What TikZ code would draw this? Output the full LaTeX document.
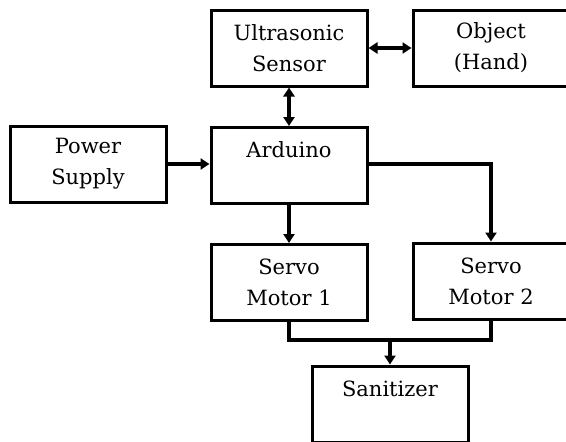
\documentclass[tikz,border=0pt]{standalone}
\usepackage{fontspec}
\setmainfont{DejaVu Serif}
\usetikzlibrary{arrows.meta}
\tikzset{>={Triangle[length=9pt,width=11pt]}}
\tikzset{blockbox/.style={draw,line width=3pt,minimum width=156pt,minimum height=76pt,align=center,inner sep=0pt,font=\fontsize{21}{31}\selectfont}}
\tikzset{link/.style={line width=4pt}}

\begin{document}
\begin{tikzpicture}[x=1pt,y=-1pt]
				\clip (0,0) rectangle (566,442);
				\node [blockbox] (sensor) at (289,48) {Ultrasonic\\Sensor};
				\node [blockbox] (object) at (491,48) {Object\\(Hand)};
				\node [blockbox] (arduino) at (289,165.5) {Arduino\\\mbox{}};
				\node [blockbox] (power) at (88,164) {Power\\Supply};
				\node [blockbox] (servoA) at (289,282.5) {Servo\\Motor 1};
				\node [blockbox] (servoB) at (491,281) {Servo\\Motor 2};
				\node [blockbox] (sanitizer) at (390,404) {Sanitizer\\\mbox{}};
				\coordinate (join) at (390,340);
				
				\draw [link,<->] (sensor.east) -- (object.west);
				\draw [link,<->] (sensor.south) -- (arduino.north);
				\draw [link,->] (power.east) -- (arduino.west |- power.east);
				\draw [link,->] (arduino.east |- power.east) -| (servoB.north);
				\draw [link,->] (arduino.south) -- (servoA.north);
				%servo outputs meet above the sanitizer
				\draw [link,line join=miter] (servoA.south) |- (join) -| (servoB.south);
				\draw [link,->] (join) -- (sanitizer.north);
				\end{tikzpicture}
\end{document}
